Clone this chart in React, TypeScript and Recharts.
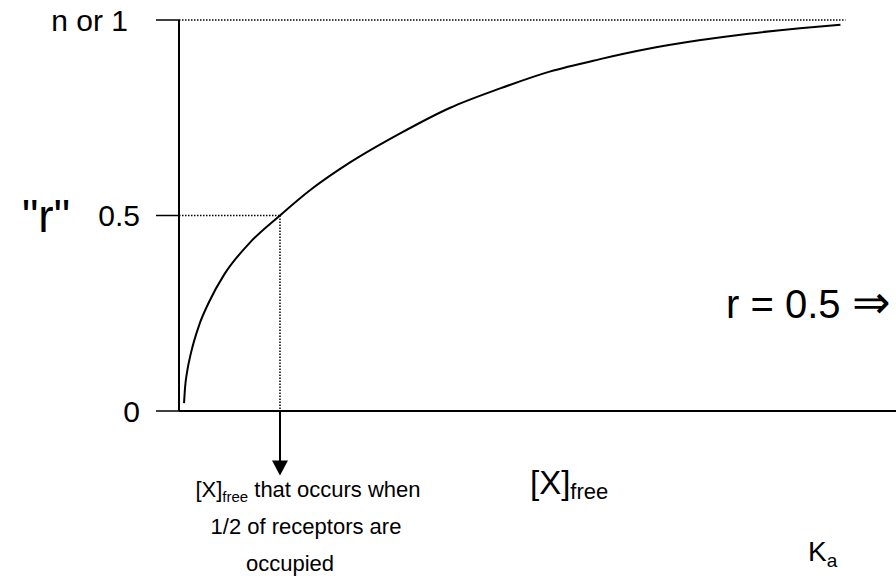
import { LineChart, Line, XAxis, YAxis, ReferenceLine } from "recharts"

// binding curve: free ligand concentration vs. fraction of sites occupied
const xFree = [0.05, 0.06, 0.08, 0.12, 0.2, 0.3, 0.45, 0.7, 1.0, 1.3, 1.69, 2.19, 2.68, 3.18, 3.67, 4.17, 4.66, 5.15, 5.64, 6.15, 6.55]
const rBound = [0.02, 0.06, 0.1, 0.15, 0.22, 0.28, 0.35, 0.43, 0.5, 0.565, 0.635, 0.71, 0.775, 0.825, 0.868, 0.9, 0.927, 0.948, 0.965, 0.979, 0.988]

const yTicks = [0, 0.5, 1]
const yTickLabels = ["0", "0.5", "n or 1"]

const halfOccupied = 1.0 // [X]free where r = 0.5
const dottedEnd = 6.6
const arrowBottom = -0.165

const data = xFree.map((x, i) => ({ x, r: rBound[i] }))

const FONT = "'Liberation Sans', Arial, sans-serif"

function YTick(props: any) {
  const { x, y, payload } = props
  const label = yTickLabels[yTicks.indexOf(payload.value)]
  // top label sits a bit further left
  const shift = payload.value === 1 ? 26 : 14
  return (
    <text x={x - shift} y={y} textAnchor="end" dominantBaseline="central" fontSize={30} fontFamily={FONT} fill="#000">
      {label}
    </text>
  )
}

function Arrow(props: any) {
  const { x1, y1, x2, y2 } = props
  return (
    <g>
      <line x1={x1} y1={y1} x2={x2} y2={y2 - 14} stroke="#000" strokeWidth={2} />
      <polygon points={`${x2 - 8},${y2 - 15} ${x2 + 8},${y2 - 15} ${x2},${y2}`} fill="#000" />
    </g>
  )
}

export default function App() {
  return (
    <div style={{ position: "absolute", left: 0, top: 0, width: 896, height: 586, overflow: "hidden", background: "#fff" }}>
      <LineChart width={896} height={586} data={data} margin={{ top: 20, right: 0, left: 0, bottom: 145 }}>
        <XAxis
          type="number"
          dataKey="x"
          domain={[0, 7.1]}
          height={30}
          tick={false}
          tickLine={false}
          axisLine={{ stroke: "#000", strokeWidth: 2 }}
        />
        <YAxis
          type="number"
          domain={[0, 1]}
          ticks={yTicks}
          width={179}
          tickSize={23}
          tick={<YTick />}
          tickLine={{ stroke: "#000", strokeWidth: 1.5 }}
          axisLine={{ stroke: "#000", strokeWidth: 2 }}
        />
        <ReferenceLine
          segment={[{ x: 0, y: 1 }, { x: dottedEnd, y: 1 }]}
          stroke="#000"
          strokeWidth={1.5}
          strokeDasharray="1.5 1.5"
        />
        <ReferenceLine
          segment={[{ x: 0, y: 0.5 }, { x: halfOccupied, y: 0.5 }]}
          stroke="#000"
          strokeWidth={1.5}
          strokeDasharray="1.5 1.5"
        />
        <ReferenceLine
          segment={[{ x: halfOccupied, y: 0.5 }, { x: halfOccupied, y: 0 }]}
          stroke="#000"
          strokeWidth={1.5}
          strokeDasharray="1.5 1.5"
        />
        <ReferenceLine
          segment={[{ x: halfOccupied, y: 0 }, { x: halfOccupied, y: arrowBottom }]}
          ifOverflow="visible"
          shape={<Arrow />}
        />
        <Line
          type="monotone"
          dataKey="r"
          stroke="#000"
          strokeWidth={2}
          dot={false}
          isAnimationActive={false}
        />
      </LineChart>

      <svg width={896} height={586} style={{ position: "absolute", left: 0, top: 0, pointerEvents: "none" }} fontFamily={FONT} fill="#000">
        <text x={22} y={232} fontSize={46}>"r"</text>
        <text x={726} y={318} fontSize={40}>
          r = 0.5 <tspan fontSize={46}>⇒</tspan>
        </text>
        <text x={530} y={494} fontSize={33}>
          [X]<tspan fontSize={22} dy={5}>free</tspan>
        </text>
        <text x={808} y={561} fontSize={28}>
          K<tspan fontSize={19} dy={6}>a</tspan>
        </text>
        <text textAnchor="middle" fontSize={22}>
          <tspan x={308} y={497}>
            [X]<tspan fontSize={15} dy={5}>free</tspan>
            <tspan dy={-5}> that occurs when</tspan>
          </tspan>
          <tspan x={306} y={534}>1/2 of receptors are</tspan>
          <tspan x={290} y={571}>occupied</tspan>
        </text>
      </svg>
    </div>
  )
}
